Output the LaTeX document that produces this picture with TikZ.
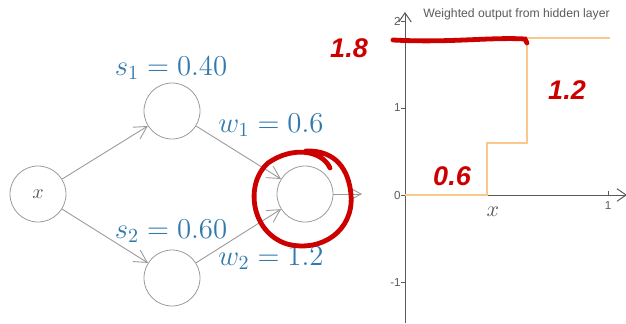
\documentclass[tikz,border=0pt]{standalone}
\usepackage{fontspec}
\newfontfamily\chartfont{Liberation Sans}
\definecolor{labelblue}{RGB}{50,122,172}
\definecolor{edgegray}{RGB}{155,155,155}
\definecolor{axisgray}{RGB}{90,90,90}
\definecolor{stepgold}{RGB}{250,200,140}
\definecolor{penred}{RGB}{205,0,0}
\usetikzlibrary{arrows.meta,positioning,calc}
\begin{document}
\begin{tikzpicture}[x=0.5pt,y=-0.5pt,
      n/.style={draw=edgegray,circle,minimum size=28pt,inner sep=0pt,line width=0.4pt},
      lbl/.style={text=labelblue,font=\fontsize{14}{16}\selectfont,inner sep=0pt},
      a/.style={-{Straight Barb[length=2.2mm,width=2.4mm]},color=edgegray,line width=0.45pt},
      tk/.style={font=\chartfont\fontsize{5.8}{6}\selectfont,text=axisgray,inner sep=0pt},
      pen/.style={penred,line width=2.4pt,line cap=round},
      hand/.style={text=penred,font=\chartfont\bfseries\itshape\fontsize{13.5}{14}\selectfont,inner sep=0pt}]
  \useasboundingbox (0,0) rectangle (626,323);
  % network
  \node[n] (x) at (38,194) {\color{axisgray}$x$};
  \node[n] (h1) at (172,111) {};
  \node[n] (h2) at (172,278) {};
  \node[n] (out) at (305,194) {};
  \coordinate (o) at (362,194);
  \draw[a] (x) -- (h1);
  \draw[a] (x) -- (h2);
  \draw[a] (h1) -- (out);
  \draw[a] (h2) -- (out);
  \draw[a] (out) -- (o);
  \node[lbl] (s1) at (171,68) {$s_1 = 0.40$};
  \node[lbl] (s2) at (171,231) {$s_2 = 0.60$};
  \node[lbl] (w1) at (271,125) {$w_1 = 0.6$};
  \node[lbl] (w2) at (271,258) {$w_2 = 1.2$};
  % chart
  \draw[axisgray,line width=0.5pt,-{Straight Barb[length=1.6mm,width=2.2mm]}] (405,323) -- (405,12);
  \draw[axisgray,line width=0.5pt,-{Straight Barb[length=1.6mm,width=2.2mm]}] (405,195) -- (627,195);
  \foreach \v/\t in {2/2,1/1,0/0,-1/-1}
    \draw[axisgray,line width=0.4pt] (401,195-87*\v) -- (405,195-87*\v)
      node[tk,left=2pt] {\t};
  \draw[axisgray,line width=0.4pt] (608,195) -- (608,191);
  \node[tk] (one) at (608,206) {1};
  \node[text=axisgray,font=\fontsize{11}{12}\selectfont] (xl) at (493,212) {$x$};
  \node[tk,font=\chartfont\fontsize{6.1}{7}\selectfont,anchor=west] (ttl) at (423,14) {Weighted output from hidden layer};
  \draw[stepgold,line width=0.8pt] (405,195) -- (487,195) -- (487,143) -- (527,143) -- (527,38) -- (610,38);
  % red marks
  \draw[pen] (393,40) .. controls (450,43) and (490,37) .. (525,39) -- (527,43);
  \draw[pen] (330,168) .. controls (322,150) and (292,146) .. (268,163)
    .. controls (245,183) and (250,232) .. (287,244)
    .. controls (322,253) and (354,230) .. (351,195)
    .. controls (349,170) and (336,150) .. (306,151);
  \node[hand] (r18) at (349,48) {1.8};
  \node[hand] (r12) at (567,90) {1.2};
  \node[hand] (r06) at (452,176) {0.6};
\end{tikzpicture}
\end{document}
